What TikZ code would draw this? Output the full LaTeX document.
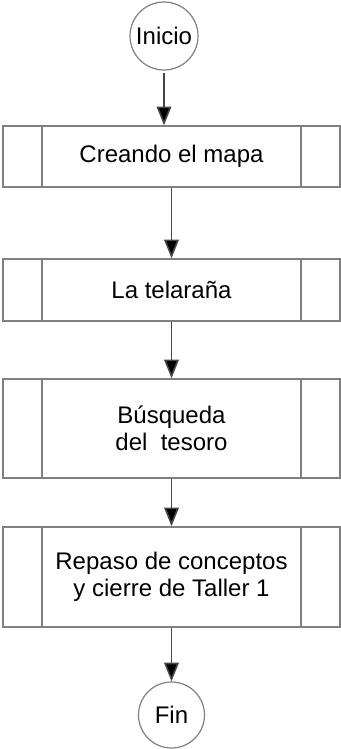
\documentclass[tikz,border=0pt]{standalone}
\usepackage{fontspec}
\setmainfont{Liberation Sans}
\usepackage{tikz}
\usetikzlibrary{arrows.meta, positioning, calc}
\definecolor{bordegris}{RGB}{128, 128, 128}
\definecolor{flechagris}{RGB}{70, 70, 70}
\tikzset{
  proceso/.style={draw=bordegris, line width=1.1pt, minimum width=252.75pt, align=center,
    font=\fontsize{18}{20}\selectfont, inner sep=0pt,
    path picture={
      \draw[bordegris, line width=1.1pt] ([xshift=29.25pt]path picture bounding box.north west) -- ([xshift=29.25pt]path picture bounding box.south west);
      \draw[bordegris, line width=1.1pt] ([xshift=-29.25pt]path picture bounding box.north east) -- ([xshift=-29.25pt]path picture bounding box.south east);
    }},
  terminal/.style={draw=bordegris, line width=0.9pt, circle, inner sep=0pt, font=\fontsize{18}{20}\selectfont},
  flecha/.style={draw=flechagris, line width=1.2pt, -{Triangle[length=14pt, width=11pt, fill=black]}}
}
\begin{document}
\begin{tikzpicture}[x=0.75pt, y=-0.75pt]
  \useasboundingbox (0,0) rectangle (341,749);

  % Inicio
  \node[terminal, minimum size=51pt] (inicio) at (164, 36) {Inicio};

  % Procesos
  \node[proceso, minimum height=45.75pt] (mapa) at (171.5, 156.5) {Creando el mapa};
  \node[proceso, minimum height=46.5pt] (telarana) at (171.5, 290) {La telaraña};
  \node[proceso, minimum height=74.25pt] (tesoro) at (171.5, 428.5) {Búsqueda\\del~ tesoro};
  \node[proceso, minimum height=75pt] (repaso) at (171.5, 577) {Repaso de conceptos\\y cierre de Taller 1};

  % Fin
  \node[terminal, minimum size=49.5pt] (fin) at (171.5, 715) {Fin};

  % Flechas
  \draw[flecha, shorten <=2pt] (inicio) -- (inicio |- mapa.north);
  \draw[flecha] (mapa) -- (telarana);
  \draw[flecha] (telarana) -- (tesoro);
  \draw[flecha] (tesoro) -- (repaso);
  \draw[flecha] (repaso) -- (fin);
\end{tikzpicture}
\end{document}
